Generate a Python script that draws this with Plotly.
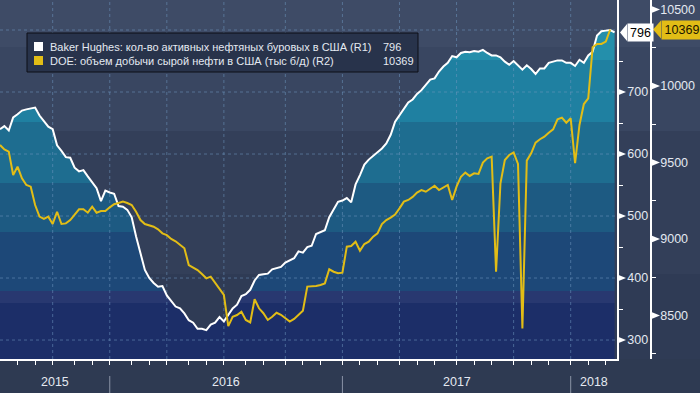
import numpy as np
import pandas as pd
import plotly.graph_objects as go

# ---------------- data ----------------
dates = pd.date_range("2015-07-03", periods=141, freq="7D")

rigs = [640, 645, 638, 659, 664, 670, 672, 674, 675, 662, 652, 644, 640, 614, 605, 595, 594, 578,
        572, 574, 564, 555, 545, 524, 541, 538, 536,
        516, 515, 510, 498, 467, 439, 413, 400, 392, 386, 387, 372, 362, 354, 351, 343, 332, 328,
        318, 318, 316, 325, 328, 337, 330, 341, 351, 357, 371, 374, 381, 396, 405, 406, 407, 414,
        416, 418, 425, 428, 432, 443, 441, 450, 452, 471, 474, 477, 498, 510, 523, 525,
        529, 522, 551, 566, 583, 591, 597, 602, 609, 617, 631, 652, 662, 672, 683, 688, 697, 703,
        712, 720, 722, 733, 741, 747, 758, 756, 763, 765, 764, 766, 765, 768, 763, 759, 759, 756,
        749, 744, 750, 743, 736, 743, 737, 729, 738, 738, 747, 749, 751, 751, 747, 747,
        742, 752, 747, 759, 765, 791, 798, 799, 800, 796]

doe = [9614, 9585, 9571, 9418, 9473, 9397, 9353, 9342, 9222, 9146, 9131, 9146, 9098, 9178,
       9098, 9102, 9124, 9161, 9194, 9194, 9172, 9211, 9172, 9183, 9183, 9207, 9227,
       9235, 9244, 9235, 9222, 9178, 9124, 9098, 9088, 9080, 9063, 9037, 9025, 9000, 8985,
       8961, 8939, 8830, 8815, 8797, 8771, 8743, 8754, 8714, 8677, 8634, 8431, 8492, 8503,
       8525, 8471, 8455, 8606, 8547, 8515, 8471, 8492, 8518, 8505, 8480, 8460, 8478, 8502,
       8531, 8689, 8689, 8693, 8699, 8710, 8802, 8786, 8776, 8780,
       8950, 8954, 8982, 8924, 8967, 8982, 9015, 9037, 9098, 9124, 9140, 9160, 9200, 9244,
       9255, 9275, 9303, 9320, 9309, 9331, 9348, 9320, 9335, 9353, 9255, 9342, 9407, 9434,
       9412, 9429, 9425, 9499, 9527, 9538, 8786, 9364, 9516, 9549, 9566, 9490, 8416, 9512,
       9560, 9630, 9652, 9669, 9695, 9717, 9782, 9793, 9760, 9789,
       9495, 9745, 9882, 9919, 10253, 10275, 10275, 10290, 10369, None]

r1_ticks = [300, 400, 500, 600, 700]
r1_grid = [300, 400, 500, 600, 700, 800]
r1_minor = [350, 450, 550, 650, 750]
r2_ticks = [8500, 9000, 9500, 10000, 10500]
r2_minor = [8250, 8750, 9250, 9750, 10250]

rig_label = "Baker Hughes: кол-во активных нефтяных буровых в США (R1)"
doe_label = "DOE: объем добычи сырой нефти в США (тыс б/д) (R2)"

# ---------------- geometry / style ----------------
W, H = 700, 393
ML, MR, MT, MB = 0, 48, 0, 34
PW, PH = W - ML - MR, H - MT - MB
AX1, AX2 = 617, 651


def px(v):
    return v / PW


def py(v):
    return 1 - v / PH


R1 = [269.4, 848.4]
R2 = [8215.7, 10562.0]
u1 = (R1[1] - R1[0]) / PH   # R1 units per pixel
u2 = (R2[1] - R2[0]) / PH

FONT = "Liberation Sans"
TXT = "#e4e9f1"
GRID = "rgba(110,150,190,0.55)"
YEL = "#e2bd16"

x = np.arange(len(dates))
month_end = [i for i in range(len(dates) - 1) if dates[i].month != dates[i + 1].month]
quarter_end = [i for i in month_end if dates[i].month in (3, 6, 9, 12)]
year_end = [i for i in month_end if dates[i].month == 12]
xr = [0, len(dates) - 1 + 0.55]

# banded gradient for the area under the rig line (R1 units)
fill_edges = [359.7, 379.0, 474.2, 553.2, 651.6, 751.6]
fill_cols = ["#1c2e68", "#283870", "#1d4878", "#1d5a82", "#1e6d90", "#1f80a1", "#248fab"]
edges = [R1[0]] + fill_edges + [R1[1]]
cs = []
for k, c in enumerate(fill_cols):
    a = (edges[k] - R1[0]) / (R1[1] - R1[0])
    b = (edges[k + 1] - R1[0]) / (R1[1] - R1[0])
    cs += [[a, c], [b, c]]

# background bands (pixel rows)
bg_rows = [0, 47, 131, 274, 359]
bg_cols = ["#3e4b66", "#394661", "#333f59", "#2f3b55"]

fig = go.Figure()

# area fill
fig.add_trace(go.Scatter(
    x=x, y=rigs, mode="lines", line=dict(width=0), fill="tozeroy",
    fillgradient=dict(type="vertical", colorscale=cs, start=R1[0], stop=R1[1]),
    hoverinfo="skip", showlegend=False))

# grid lines (above fill, below lines)
gx, gy = [], []
for v in r1_grid:
    gx += [xr[0], xr[1], None]
    gy += [v, v, None]
for q in quarter_end:
    gx += [q, q, None]
    gy += [R1[0], R1[1], None]
fig.add_trace(go.Scatter(x=gx, y=gy, mode="lines",
                         line=dict(color=GRID, width=1, dash="3px,3px"),
                         hoverinfo="skip", showlegend=False))

# rig line
fig.add_trace(go.Scatter(x=x, y=rigs, mode="lines", line=dict(color="white", width=2),
                         showlegend=False, name=rig_label))
# DOE line
fig.add_trace(go.Scatter(x=x, y=doe, mode="lines", line=dict(color=YEL, width=2),
                         yaxis="y2", showlegend=False, name=doe_label))

shapes = []
for k, c in enumerate(bg_cols):
    shapes.append(dict(type="rect", xref="paper", yref="paper", x0=-0.01, x1=1.08,
                       y0=py(bg_rows[k + 1]), y1=py(bg_rows[k]), fillcolor=c,
                       line=dict(width=0), layer="below"))

# tick pointers
for v in r1_ticks:
    d = 3.2 * u1
    shapes.append(dict(type="path", xref="paper", yref="y",
                       path=f"M {px(AX1 + 1)},{v + d} L {px(AX1 + 1)},{v - d} L {px(AX1 + 9)},{v} Z",
                       fillcolor="white", line=dict(width=0)))
for v in r2_ticks:
    d = 3.2 * u2
    shapes.append(dict(type="path", xref="paper", yref="y2",
                       path=f"M {px(AX2 + 1)},{v + d} L {px(AX2 + 1)},{v - d} L {px(AX2 + 9)},{v} Z",
                       fillcolor="white", line=dict(width=0)))

# year separators
for i in year_end:
    shapes.append(dict(type="line", xref="x", yref="paper", x0=i, x1=i,
                       y0=py(376), y1=py(393), line=dict(color="#8a93a6", width=1)))

# legend box
shapes.append(dict(type="rect", xref="paper", yref="paper", x0=px(27), x1=px(418),
                   y0=py(72), y1=py(33), fillcolor="#28334b", line=dict(color="#0c0f16", width=1)))
shapes.append(dict(type="rect", xref="paper", yref="paper", x0=px(34), x1=px(43),
                   y0=py(51), y1=py(42), fillcolor="white", line=dict(width=0)))
shapes.append(dict(type="rect", xref="paper", yref="paper", x0=px(34), x1=px(43),
                   y0=py(65), y1=py(56), fillcolor=YEL, line=dict(width=0)))

# value flags
last_rig = rigs[-1]
last_doe = [v for v in doe if v is not None][-1]
d1 = 8.5 * u1
shapes.append(dict(type="path", xref="paper", yref="y",
                   path=f"M {px(627)},{last_rig + d1} L {px(620)},{last_rig} L {px(627)},{last_rig - d1} Z",
                   fillcolor="white", line=dict(width=0)))
d2 = 9 * u2
shapes.append(dict(type="path", xref="paper", yref="y2",
                   path=f"M {px(661)},{last_doe + d2} L {px(653)},{last_doe} L {px(661)},{last_doe - d2} Z",
                   fillcolor=YEL, line=dict(width=0)))

annotations = []
annotations.append(dict(xref="paper", yref="y", x=px(626.5), y=last_rig, xanchor="left",
                        yanchor="middle", text=str(last_rig), showarrow=False, bgcolor="white",
                        width=25, height=17, borderpad=0,
                        font=dict(family=FONT, size=12.5, color="#000000")))
annotations.append(dict(xref="paper", yref="y2", x=px(660.5), y=last_doe, xanchor="left",
                        yanchor="middle", text=str(last_doe), showarrow=False, bgcolor=YEL,
                        width=40, height=18, borderpad=0,
                        font=dict(family=FONT, size=12.5, color="#1a1600")))

# legend texts
for txt, yy in [(rig_label, 46.5), (doe_label, 60.5)]:
    annotations.append(dict(xref="paper", yref="paper", x=px(48), y=py(yy), xanchor="left",
                            yanchor="middle", text=txt, showarrow=False,
                            font=dict(family=FONT, size=11, color=TXT)))
for txt, yy in [(str(last_rig), 46.5), (str(last_doe), 60.5)]:
    annotations.append(dict(xref="paper", yref="paper", x=px(381), y=py(yy), xanchor="left",
                            yanchor="middle", text=txt, showarrow=False,
                            font=dict(family=FONT, size=11, color=TXT)))

# year labels
bounds = [xr[0]] + year_end + [xr[1]]
years = [dates[0].year + k for k in range(len(bounds) - 1)]
for k, yv in enumerate(years):
    annotations.append(dict(xref="x", yref="paper", x=(bounds[k] + bounds[k + 1]) / 2,
                            y=py(382), xanchor="center", yanchor="middle", text=str(yv),
                            showarrow=False, font=dict(family=FONT, size=12.5, color=TXT)))

fig.update_layout(
    width=W, height=H, margin=dict(l=ML, r=MR, t=MT, b=MB),
    paper_bgcolor="#2e3a52", plot_bgcolor="rgba(0,0,0,0)",
    showlegend=False, shapes=shapes, annotations=annotations,
    xaxis=dict(domain=[0, AX1 / PW], range=xr, showgrid=False, zeroline=False,
               showline=True, linecolor="white", linewidth=2,
               tickvals=quarter_end, ticks="outside", ticklen=4, tickcolor="white",
               showticklabels=False,
               minor=dict(tickvals=month_end, ticks="outside", ticklen=4, tickcolor="white",
                          showgrid=False)),
    yaxis=dict(range=R1, side="right", anchor="x", showgrid=False, zeroline=False,
               showline=True, linecolor="white", linewidth=1.5,
               tickvals=r1_ticks, ticks="outside", ticklen=6, tickcolor="rgba(0,0,0,0)",
               tickformat="d",
               tickfont=dict(family=FONT, size=12.5, color=TXT),
               minor=dict(tickvals=r1_minor, ticks="outside", ticklen=4, tickcolor="white")),
    yaxis2=dict(range=R2, side="right", overlaying="y", anchor="free", position=AX2 / PW,
                showgrid=False, zeroline=False, showline=True, linecolor="white",
                linewidth=1.5, tickvals=r2_ticks, ticks="outside", ticklen=6,
                tickcolor="rgba(0,0,0,0)", tickformat="d",
                tickfont=dict(family=FONT, size=12.5, color=TXT),
                minor=dict(tickvals=r2_minor, ticks="outside", ticklen=4, tickcolor="white")),
)

fig.write_html("out.html", config={"displayModeBar": False},
               post_script="document.body.style.margin='0';document.body.style.padding='0';")
